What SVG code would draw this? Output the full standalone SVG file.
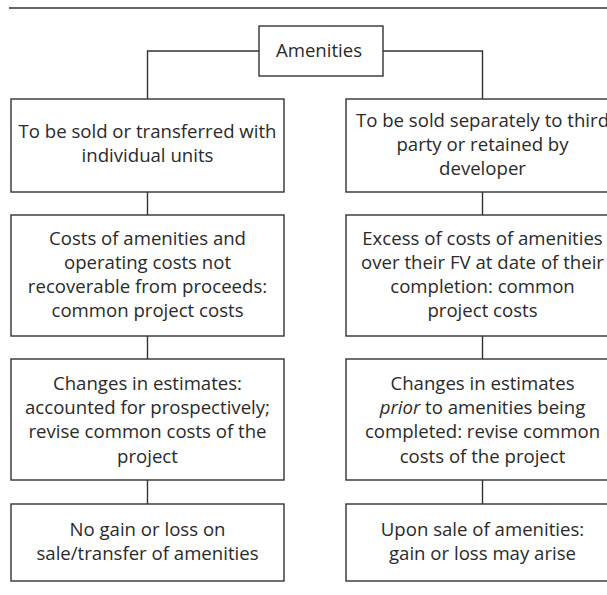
<svg xmlns="http://www.w3.org/2000/svg" width="607" height="595" viewBox="0 0 607 595">
<style>
.box{fill:#fff;stroke:#333;stroke-width:1.4}
.ln{fill:none;stroke:#333;stroke-width:1.4}
text{font-family:"Open Sans",Lato,sans-serif;font-size:18.6px;fill:#2a2a2a;text-anchor:middle}
</style>
<rect width="607" height="595" fill="#fff"/>
<line class="ln" x1="9" y1="8" x2="607" y2="8"/>
<g id="connectors">
<polyline class="ln" points="259,51 147.5,51 147.5,99"/>
<polyline class="ln" points="383,51 482.5,51 482.5,99"/>
<line class="ln" x1="147.5" y1="192" x2="147.5" y2="215"/>
<line class="ln" x1="147.5" y1="336" x2="147.5" y2="359"/>
<line class="ln" x1="147.5" y1="480" x2="147.5" y2="504"/>
<line class="ln" x1="482.5" y1="192" x2="482.5" y2="215"/>
<line class="ln" x1="482.5" y1="336" x2="482.5" y2="359"/>
<line class="ln" x1="482.5" y1="480" x2="482.5" y2="504"/>
</g>
<g id="amenities">
<rect class="box" x="259" y="26" width="124" height="50"/>
<text x="319" y="57">Amenities</text>
</g>
<g id="left1">
<rect class="box" x="11" y="99" width="273" height="93"/>
<text x="147.5" y="138">To be sold or transferred with</text>
<text x="147.5" y="162">individual units</text>
</g>
<g id="left2">
<rect class="box" x="11" y="215" width="273" height="121"/>
<text x="147.5" y="245">Costs of amenities and</text>
<text x="147.5" y="269">operating costs not</text>
<text x="147.5" y="293">recoverable from proceeds:</text>
<text x="147.5" y="317">common project costs</text>
</g>
<g id="left3">
<rect class="box" x="11" y="359" width="273" height="121"/>
<text x="147.5" y="390">Changes in estimates:</text>
<text x="147.5" y="414">accounted for prospectively;</text>
<text x="147.5" y="438">revise common costs of the</text>
<text x="147.5" y="463">project</text>
</g>
<g id="left4">
<rect class="box" x="11" y="504" width="273" height="77"/>
<text x="147.5" y="536">No gain or loss on</text>
<text x="147.5" y="560">sale/transfer of amenities</text>
</g>
<g id="right1">
<rect class="box" x="346" y="99" width="273" height="93"/>
<text x="482.5" y="127">To be sold separately to third</text>
<text x="482.5" y="151">party or retained by</text>
<text x="482.5" y="175">developer</text>
</g>
<g id="right2">
<rect class="box" x="346" y="215" width="273" height="121"/>
<text x="482.5" y="245">Excess of costs of amenities</text>
<text x="482.5" y="269">over their FV at date of their</text>
<text x="482.5" y="293">completion: common</text>
<text x="482.5" y="317">project costs</text>
</g>
<g id="right3">
<rect class="box" x="346" y="359" width="273" height="121"/>
<text x="482.5" y="390">Changes in estimates</text>
<text x="482.5" y="414"><tspan font-style="italic">prior</tspan> to amenities being</text>
<text x="482.5" y="438">completed: revise common</text>
<text x="482.5" y="463">costs of the project</text>
</g>
<g id="right4">
<rect class="box" x="346" y="504" width="273" height="77"/>
<text x="482.5" y="536">Upon sale of amenities:</text>
<text x="482.5" y="560">gain or loss may arise</text>
</g>
</svg>
